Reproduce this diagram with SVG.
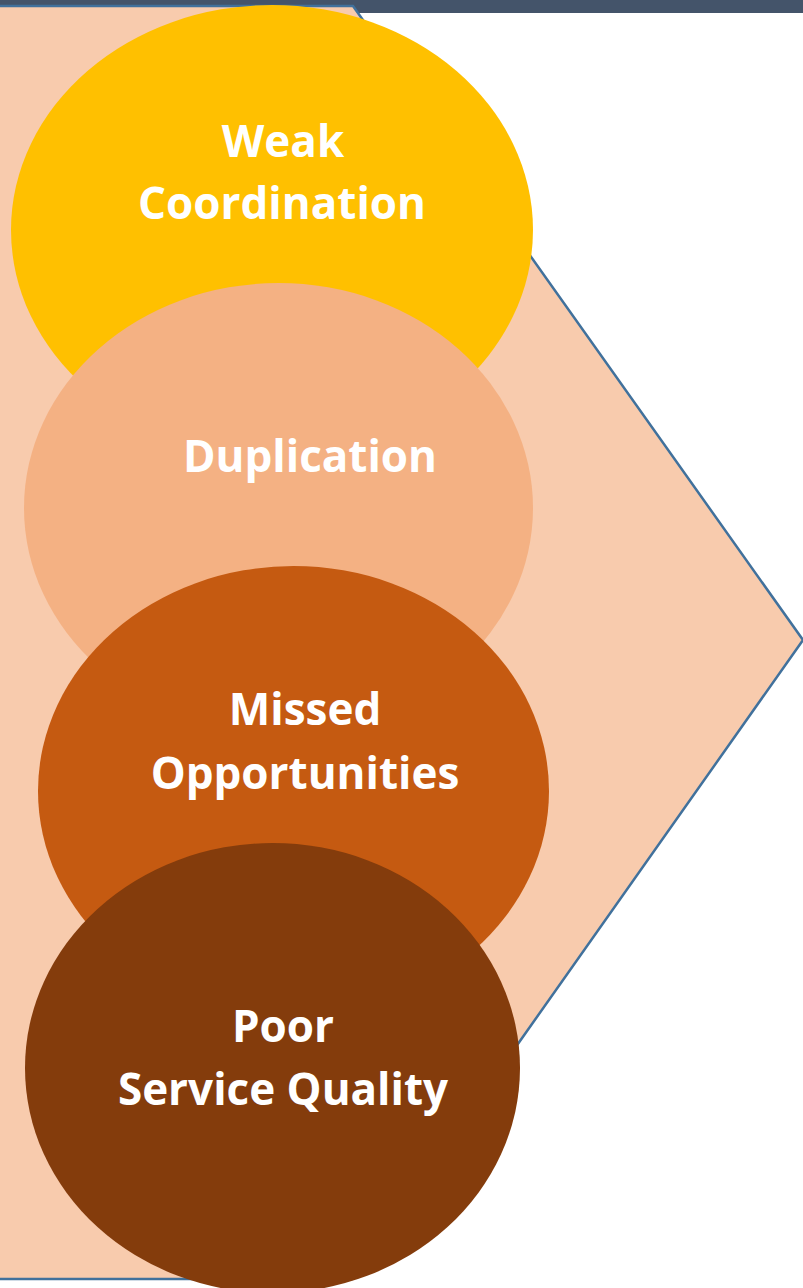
<svg xmlns="http://www.w3.org/2000/svg" width="803" height="1288" viewBox="0 0 803 1288">
  <style>
    .lbl { font-family: "Open Sans", "Noto Sans", "Liberation Sans", sans-serif; font-weight: bold; font-size: 44px; fill: #FFFFFF; text-anchor: middle; }
  </style>
  <rect x="0" y="0" width="803" height="1288" fill="#FFFFFF"/>
  <!-- header band -->
  <rect x="0" y="0" width="803" height="13" fill="#44546A"/>
  <!-- chevron backdrop -->
  <g id="connectors">
    <polygon points="-4,6 353,6 803,640 352,1279 -4,1279" fill="#F8CBAD" stroke="#41719C" stroke-width="2.5"/>
  </g>
  <g id="weak-coordination">
    <ellipse cx="272" cy="230" rx="261" ry="225" fill="#FFC000"/>
    <text class="lbl" x="283" y="157">Weak</text>
    <text class="lbl" x="282" y="219">Coordination</text>
  </g>
  <g id="duplication">
    <ellipse cx="278.5" cy="508" rx="254.5" ry="225" fill="#F4B183"/>
    <text class="lbl" x="310" y="472">Duplication</text>
  </g>
  <g id="missed-opportunities">
    <ellipse cx="293.5" cy="791" rx="255.5" ry="225" fill="#C55A11"/>
    <text class="lbl" x="305" y="725">Missed</text>
    <text class="lbl" x="305" y="789">Opportunities</text>
  </g>
  <g id="poor-service-quality">
    <ellipse cx="272.5" cy="1068" rx="247.5" ry="225" fill="#843C0C"/>
    <text class="lbl" x="283" y="1042">Poor</text>
    <text class="lbl" x="283" y="1105">Service Quality</text>
  </g>
</svg>
